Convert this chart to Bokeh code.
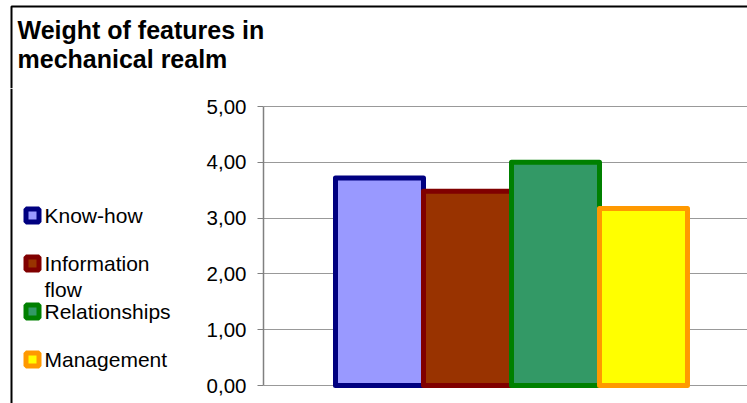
from bokeh.plotting import figure
from bokeh.layouts import column, row
from bokeh.models import (ColumnDataSource, Range1d, FixedTicker, CustomJSTickFormatter,
                          Label, BoxAnnotation, Span)
from bokeh.core.properties import value
from bokeh.embed import file_html
from bokeh.resources import INLINE

# Feature weights in the mechanical realm
features = ["Know-how", "Information\nflow", "Relationships", "Management"]
weights = [3.72, 3.48, 4.00, 3.17]
fill_colors = ["#9999FF", "#993300", "#339966", "#FFFF00"]
line_colors = ["#000080", "#800000", "#008000", "#FF9900"]
y_ticks = [0, 1, 2, 3, 4, 5]
title_lines = ["Weight of features in", "mechanical realm"]

FONT = "Liberation Sans"
W, H = 747, 403
HEAD_H = 88          # title strip height
SIDE_W = 195         # legend column width
BODY_H = H - HEAD_H
BORDER_X, BORDER_Y = 11, 6

# value axis geometry (canvas pixels)
AXIS_X = 263
Y0_PX, Y5_PX = 385, 106
PX_PER_UNIT = (Y0_PX - Y5_PX) / 5


def blank(width, height, x_range, y_range):
    f = figure(width=width, height=height, output_backend="svg", toolbar_location=None,
               x_range=x_range, y_range=y_range,
               x_axis_location=None, y_axis_location=None,
               min_border=0, min_border_left=0, min_border_right=0,
               min_border_top=0, min_border_bottom=0)
    f.outline_line_color = None
    f.grid.visible = False
    return f


# ---- title strip (pixel coordinates, y downwards)
head = blank(W, HEAD_H, Range1d(0, W), Range1d(HEAD_H, 0))
head.add_layout(BoxAnnotation(left=BORDER_X, right=W + 50, top=BORDER_Y, bottom=HEAD_H + 50,
                              fill_alpha=0, line_color="black", line_alpha=1, line_width=2))
for i, txt in enumerate(title_lines):
    head.add_layout(Label(x=17, y=29 + 29 * i, text=txt, text_font=FONT,
                          text_font_size="25px", text_font_style="bold",
                          text_color="black", text_baseline="alphabetic"))

# ---- legend column: one row per feature, rows 48 px apart
ROW0, ROW_STEP = 215 - HEAD_H, 48
leg = blank(SIDE_W, BODY_H, Range1d(0, SIDE_W),
            Range1d((BODY_H - ROW0) / ROW_STEP, -ROW0 / ROW_STEP))
leg.add_layout(Span(location=BORDER_X, dimension="height", line_color="black",
                    line_alpha=1, line_width=2))
leg_src = ColumnDataSource(dict(
    idx=list(range(len(features))), name=features, fill=fill_colors, line=line_colors,
    sx=[32] * len(features), tx=[44] * len(features),
))
leg.scatter(x="sx", y="idx", source=leg_src, marker="square", size=13,
            fill_color="fill", line_color="line", line_width=5)
leg.text(x="tx", y="idx", text="name", source=leg_src, y_offset=-12,
         text_font=value(FONT), text_font_size="21px", text_color="black",
         text_baseline="top", text_align="left", text_line_height=1.16)

# ---- bar chart; its frame fills the whole body height
y_lo = -(H - Y0_PX) / PX_PER_UNIT
y_hi = 5 + (Y5_PX - HEAD_H) / PX_PER_UNIT
bars = figure(width=W - SIDE_W, height=BODY_H, output_backend="svg", toolbar_location=None,
              x_range=Range1d(-1.318, 4.182), y_range=Range1d(y_lo, y_hi),
              min_border_left=AXIS_X - SIDE_W, min_border_right=0,
              min_border_top=0, min_border_bottom=0)
bars.outline_line_color = None
src = ColumnDataSource(dict(x=list(range(len(features))), top=weights,
                            fill=fill_colors, line=line_colors))
bars.vbar(x="x", top="top", bottom=0, width=1.0, source=src,
          fill_color="fill", line_color="line", line_width=5, line_join="round")

bars.xaxis.visible = False
bars.xgrid.visible = False
ax = bars.yaxis[0]
ax.bounds = (0, 5)
ax.ticker = FixedTicker(ticks=y_ticks)
ax.formatter = CustomJSTickFormatter(code="return tick.toFixed(2).replace('.', ',');")
ax.axis_line_color = "#808080"
ax.axis_line_width = 1.5
ax.major_tick_line_color = "#808080"
ax.major_tick_out = 6
ax.major_tick_in = 0
ax.minor_tick_out = 0
ax.minor_tick_in = 0
ax.major_label_text_font = FONT
ax.major_label_text_font_size = "20.5px"
ax.major_label_text_color = "black"
ax.major_label_standoff = 11
bars.ygrid.grid_line_color = "#999999"
bars.ygrid.grid_line_width = 1
bars.ygrid.ticker = FixedTicker(ticks=y_ticks)

page = column(head, row(leg, bars, spacing=0), spacing=0)
open("out.html", "w").write(file_html(page, INLINE))
